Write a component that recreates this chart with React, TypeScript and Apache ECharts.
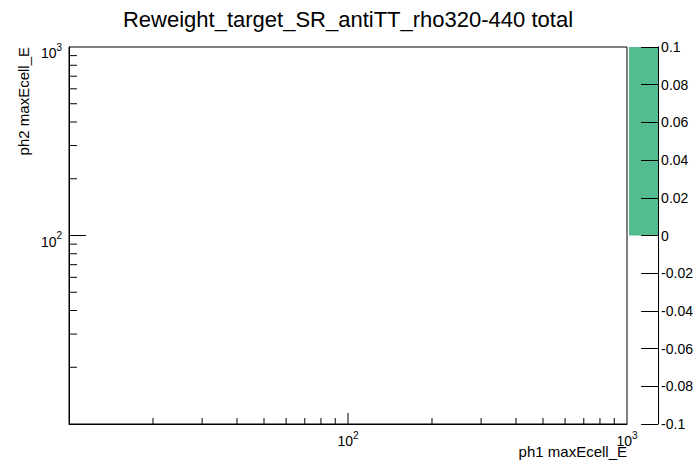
import React, { useEffect, useRef } from "react";
import * as echarts from "echarts";

// ---- data ----
const chartTitle = "Reweight_target_SR_antiTT_rho320-440 total";
const xTitle = "ph1 maxEcell_E";
const yTitle = "ph2 maxEcell_E";
const X_MIN = 10;
const X_MAX = 1000;
const Y_MIN = 10;
const Y_MAX = 1000;
const xMajorTicks = [100];
const xMinorTicks = [20, 30, 40, 50, 60, 70, 80, 90, 200, 300, 400, 500, 600, 700, 800, 900];
const yMajorTicks = [100];
const yMinorTicks = [20, 30, 40, 50, 60, 70, 80, 90, 200, 300, 400, 500, 600, 700, 800, 900];
const zMin = -0.1;
const zMax = 0.1;
const zInterval = 0.02;
const paletteCategories = ["z"];
const paletteValues = [0.1];

const FONT = "'Liberation Sans', Arial, Helvetica, sans-serif";
const NARROW = "'Liberation Sans Narrow', 'Liberation Sans', Arial, sans-serif";

const logLabel = (v: number) => {
  const e = Math.round(Math.log10(v));
  if (e <= 1) return "";
  return "{b|10}{s|" + e + "}";
};

const richLabels = {
  b: { fontSize: 14, fontFamily: NARROW, color: "#000", lineHeight: 18, verticalAlign: "bottom" },
  s: { fontSize: 10, fontFamily: NARROW, color: "#000", lineHeight: 18, verticalAlign: "top", padding: [0, 0, 5, 0] },
};

export default function App() {
  const ref = useRef<HTMLDivElement>(null);
  useEffect(() => {
    if (!ref.current) return;
    const chart = echarts.init(ref.current, undefined, { renderer: "svg" });

    const xTickData = [
      ...xMajorTicks.map((v) => [v, Y_MIN, 1]),
      ...xMinorTicks.map((v) => [v, Y_MIN, 0]),
    ];
    const yTickData = [
      ...yMajorTicks.map((v) => [X_MIN, v, 1]),
      ...yMinorTicks.map((v) => [X_MIN, v, 0]),
    ];

    chart.setOption({
      animation: false,
      backgroundColor: "#fff",
      title: {
        text: chartTitle,
        left: "center",
        top: 3,
        textStyle: { fontFamily: FONT, fontSize: 22, fontWeight: "normal", color: "#000" },
      },
      grid: [
        { left: 69, top: 47, width: 558, height: 377, show: true, borderColor: "#000", borderWidth: 1, backgroundColor: "transparent" },
        { left: 629, top: 47, width: 32, height: 377, show: false },
      ],
      xAxis: [
        {
          type: "log",
          logBase: 10,
          gridIndex: 0,
          min: X_MIN,
          max: X_MAX,
          axisLine: { show: true, lineStyle: { color: "#000", width: 1 } },
          axisTick: { show: false },
          splitLine: { show: false },
          minorTick: { show: false },
          axisLabel: { formatter: logLabel, rich: richLabels, margin: 6, showMinLabel: true, showMaxLabel: true, hideOverlap: false },
        },
        {
          type: "category",
          gridIndex: 1,
          data: paletteCategories,
          show: false,
        },
      ],
      yAxis: [
        {
          type: "log",
          logBase: 10,
          gridIndex: 0,
          min: Y_MIN,
          max: Y_MAX,
          axisLine: { show: true, lineStyle: { color: "#000", width: 1 } },
          axisTick: { show: false },
          splitLine: { show: false },
          minorTick: { show: false },
          axisLabel: { formatter: logLabel, rich: richLabels, margin: 7, padding: [8, 0, 0, 0], showMinLabel: true, showMaxLabel: true, hideOverlap: false },
        },
        {
          type: "value",
          gridIndex: 1,
          position: "right",
          min: zMin,
          max: zMax,
          interval: zInterval,
          z: 5,
          axisLine: { show: true, onZero: false, lineStyle: { color: "#000", width: 1 } },
          axisTick: { show: true, inside: true, length: 17, lineStyle: { color: "#000", width: 1 } },
          splitLine: { show: false },
          axisLabel: {
            margin: 3,
            fontSize: 14,
            fontFamily: FONT,
            color: "#000",
            showMinLabel: true,
            showMaxLabel: true,
            formatter: (v: number) => String(parseFloat(v.toFixed(2))),
          },
        },
      ],
      graphic: [
        {
          type: "text",
          x: 627,
          y: 451,
          style: { text: xTitle, fontFamily: FONT, fontSize: 15, fill: "#000", textAlign: "right", textVerticalAlign: "middle" },
        },
        {
          type: "text",
          x: 23,
          y: 47,
          rotation: Math.PI / 2,
          style: { text: yTitle, fontFamily: FONT, fontSize: 15, fill: "#000", textAlign: "right", textVerticalAlign: "middle" },
        },
      ],
      series: [
        {
          type: "bar",
          xAxisIndex: 1,
          yAxisIndex: 1,
          data: paletteValues,
          barWidth: "100%",
          itemStyle: { color: "#53bc90" },
          z: 1,
        },
        {
          type: "custom",
          xAxisIndex: 0,
          yAxisIndex: 0,
          clip: false,
          data: xTickData,
          renderItem: (params: any, api: any) => {
            const p = api.coord([api.value(0), api.value(1)]);
            const len = api.value(2) ? 11 : 6;
            return {
              type: "line",
              shape: { x1: p[0], y1: p[1], x2: p[0], y2: p[1] - len },
              style: { stroke: "#000", lineWidth: 1 },
            };
          },
          z: 10,
        },
        {
          type: "custom",
          xAxisIndex: 0,
          yAxisIndex: 0,
          clip: false,
          data: yTickData,
          renderItem: (params: any, api: any) => {
            const p = api.coord([api.value(0), api.value(1)]);
            const len = api.value(2) ? 17 : 8;
            return {
              type: "line",
              shape: { x1: p[0], y1: p[1], x2: p[0] + len, y2: p[1] },
              style: { stroke: "#000", lineWidth: 1 },
            };
          },
          z: 10,
        },
      ],
    });
    return () => chart.dispose();
  }, []);
  return (
    <div
      ref={ref}
      style={{ position: "absolute", left: 0, top: 0, width: 696, height: 472, background: "#fff" }}
    />
  );
}
